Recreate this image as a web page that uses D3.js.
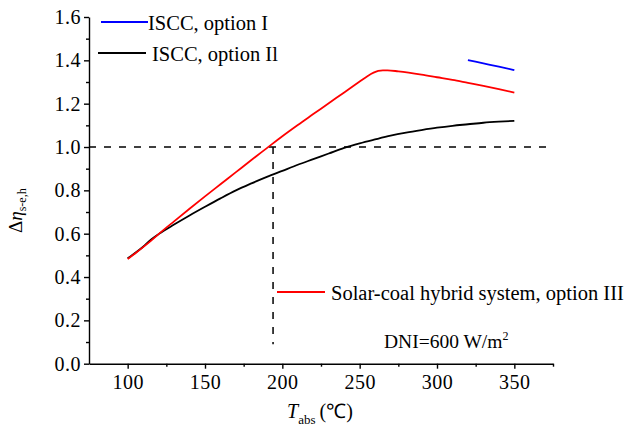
<!DOCTYPE html>
<html>
<head>
<meta charset="utf-8">
<script src="https://cdn.jsdelivr.net/npm/d3@7"></script>
<style>
  body { margin: 0; background: #fff; }
  text { font-family: "Liberation Serif", "Times New Roman", serif; fill: #000; }
</style>
</head>
<body>
<script>
// option III (red)
const tempRed = [100,105,110,115,120,130,140,150,160,170,180,190,200,210,220,230,240,250,255,259,262,265,268,275,290,300,310,320,330,340,350];
const etaRed  = [0.483,0.51,0.538,0.567,0.598,0.657,0.715,0.772,0.828,0.884,0.94,0.995,1.05,1.102,1.152,1.202,1.252,1.302,1.327,1.343,1.351,1.354,1.354,1.349,1.334,1.322,1.31,1.296,1.282,1.267,1.251];
// option II (black)
const tempBlack = [100,105,110,115,120,130,140,150,160,170,180,190,200,210,220,230,240,250,260,270,280,290,300,310,320,330,340,350];
const etaBlack  = [0.486,0.512,0.54,0.572,0.598,0.642,0.684,0.724,0.763,0.8,0.832,0.862,0.89,0.918,0.944,0.97,0.996,1.017,1.035,1.052,1.066,1.078,1.089,1.098,1.105,1.112,1.117,1.121];
// option I (blue)
const tempBlue = [320,330,340,350];
const etaBlue  = [1.401,1.386,1.371,1.355];

const xTicks = [100,150,200,250,300,350];
const yTicks = [0,0.2,0.4,0.6,0.8,1.0,1.2,1.4,1.6];

const W = 632, H = 430;
const svg = d3.select("body").append("svg").attr("width", W).attr("height", H);

const x = d3.scaleLinear().domain([75, 375]).range([89, 553]);
const y = d3.scaleLinear().domain([0, 1.6]).range([363.7, 17]);

// reference dashed lines
svg.append("line")
  .attr("x1", x(75)).attr("x2", x(371))
  .attr("y1", y(1)).attr("y2", y(1))
  .attr("stroke", "#000").attr("stroke-width", 1.5).attr("stroke-dasharray", "7,8");
svg.append("line")
  .attr("x1", x(194)).attr("x2", x(194))
  .attr("y1", y(1)).attr("y2", y(0.09))
  .attr("stroke", "#000").attr("stroke-width", 1.5).attr("stroke-dasharray", "7,8");

// axes
const xAxis = svg.append("g").attr("transform", "translate(0," + y(0) + ")")
  .call(d3.axisBottom(x).tickValues(xTicks).tickSize(5).tickSizeOuter(0).tickPadding(6));
const xMinor = svg.append("g").attr("transform", "translate(0," + y(0) + ")")
  .call(d3.axisBottom(x).tickValues([125,175,225,275,325,375]).tickSize(3).tickFormat("").tickSizeOuter(0));
xMinor.select(".domain").remove();

const yAxis = svg.append("g").attr("transform", "translate(" + x(75) + ",0)")
  .call(d3.axisLeft(y).tickValues(yTicks).tickFormat(d3.format(".1f")).tickSize(5).tickSizeOuter(0).tickPadding(3));
const yMinor = svg.append("g").attr("transform", "translate(" + x(75) + ",0)")
  .call(d3.axisLeft(y).tickValues([0.1,0.3,0.5,0.7,0.9,1.1,1.3,1.5]).tickSize(3).tickFormat("").tickSizeOuter(0));
yMinor.select(".domain").remove();

svg.selectAll("g").attr("font-family", null).attr("font-size", null);
svg.selectAll(".domain, .tick line").attr("stroke", "#000").attr("stroke-width", 1.4);
svg.selectAll(".tick text").style("font", "20px 'Liberation Serif', serif").attr("letter-spacing", 0.5);

// curves
const line = d3.line().x(d => x(d[0])).y(d => y(d[1])).curve(d3.curveMonotoneX);
function series(t, v, color) {
  svg.append("path")
    .datum(t.map((d, i) => [d, v[i]]))
    .attr("d", line)
    .attr("fill", "none")
    .attr("stroke", color)
    .attr("stroke-width", 1.8);
}
series(tempBlack, etaBlack, "#000");
series(tempRed, etaRed, "#ff0000");
series(tempBlue, etaBlue, "#0000ff");

// legend
function legendItem(x1, x2, ly, color, label, tx) {
  svg.append("line").attr("x1", x1).attr("x2", x2).attr("y1", ly).attr("y2", ly)
    .attr("stroke", color).attr("stroke-width", 1.8);
  svg.append("text").attr("x", tx).attr("y", ly + 8).style("font-size", "20.5px").text(label);
}
legendItem(101, 148, 22, "#0000ff", "ISCC, option I", 148);
legendItem(98, 146, 53, "#000", "ISCC, option Il", 152);
legendItem(277, 325, 292, "#ff0000", "Solar-coal hybrid system, option III", 331);

// annotation
const dni = svg.append("text").attr("x", 384).attr("y", 348).style("font-size", "19.5px");
dni.append("tspan").text("DNI=600 W/m");
dni.append("tspan").attr("dy", -8).style("font-size", "12px").text("2");

// axis titles
const xt = svg.append("text").attr("x", 287).attr("y", 418).style("font-size", "20px");
xt.append("tspan").style("font-style", "italic").text("T");
xt.append("tspan").attr("dy", 6).style("font-size", "13px").text("abs");
xt.append("tspan").attr("dy", -6).attr("dx", 4).text("(℃)");

const yt = svg.append("text").attr("transform", "translate(22,233) rotate(-90)").style("font-size", "19px");
yt.append("tspan").text("Δ");
yt.append("tspan").style("font-style", "italic").text("η");
yt.append("tspan").attr("dy", 4).style("font-size", "12px").text("s-e,h");
</script>
</body>
</html>
